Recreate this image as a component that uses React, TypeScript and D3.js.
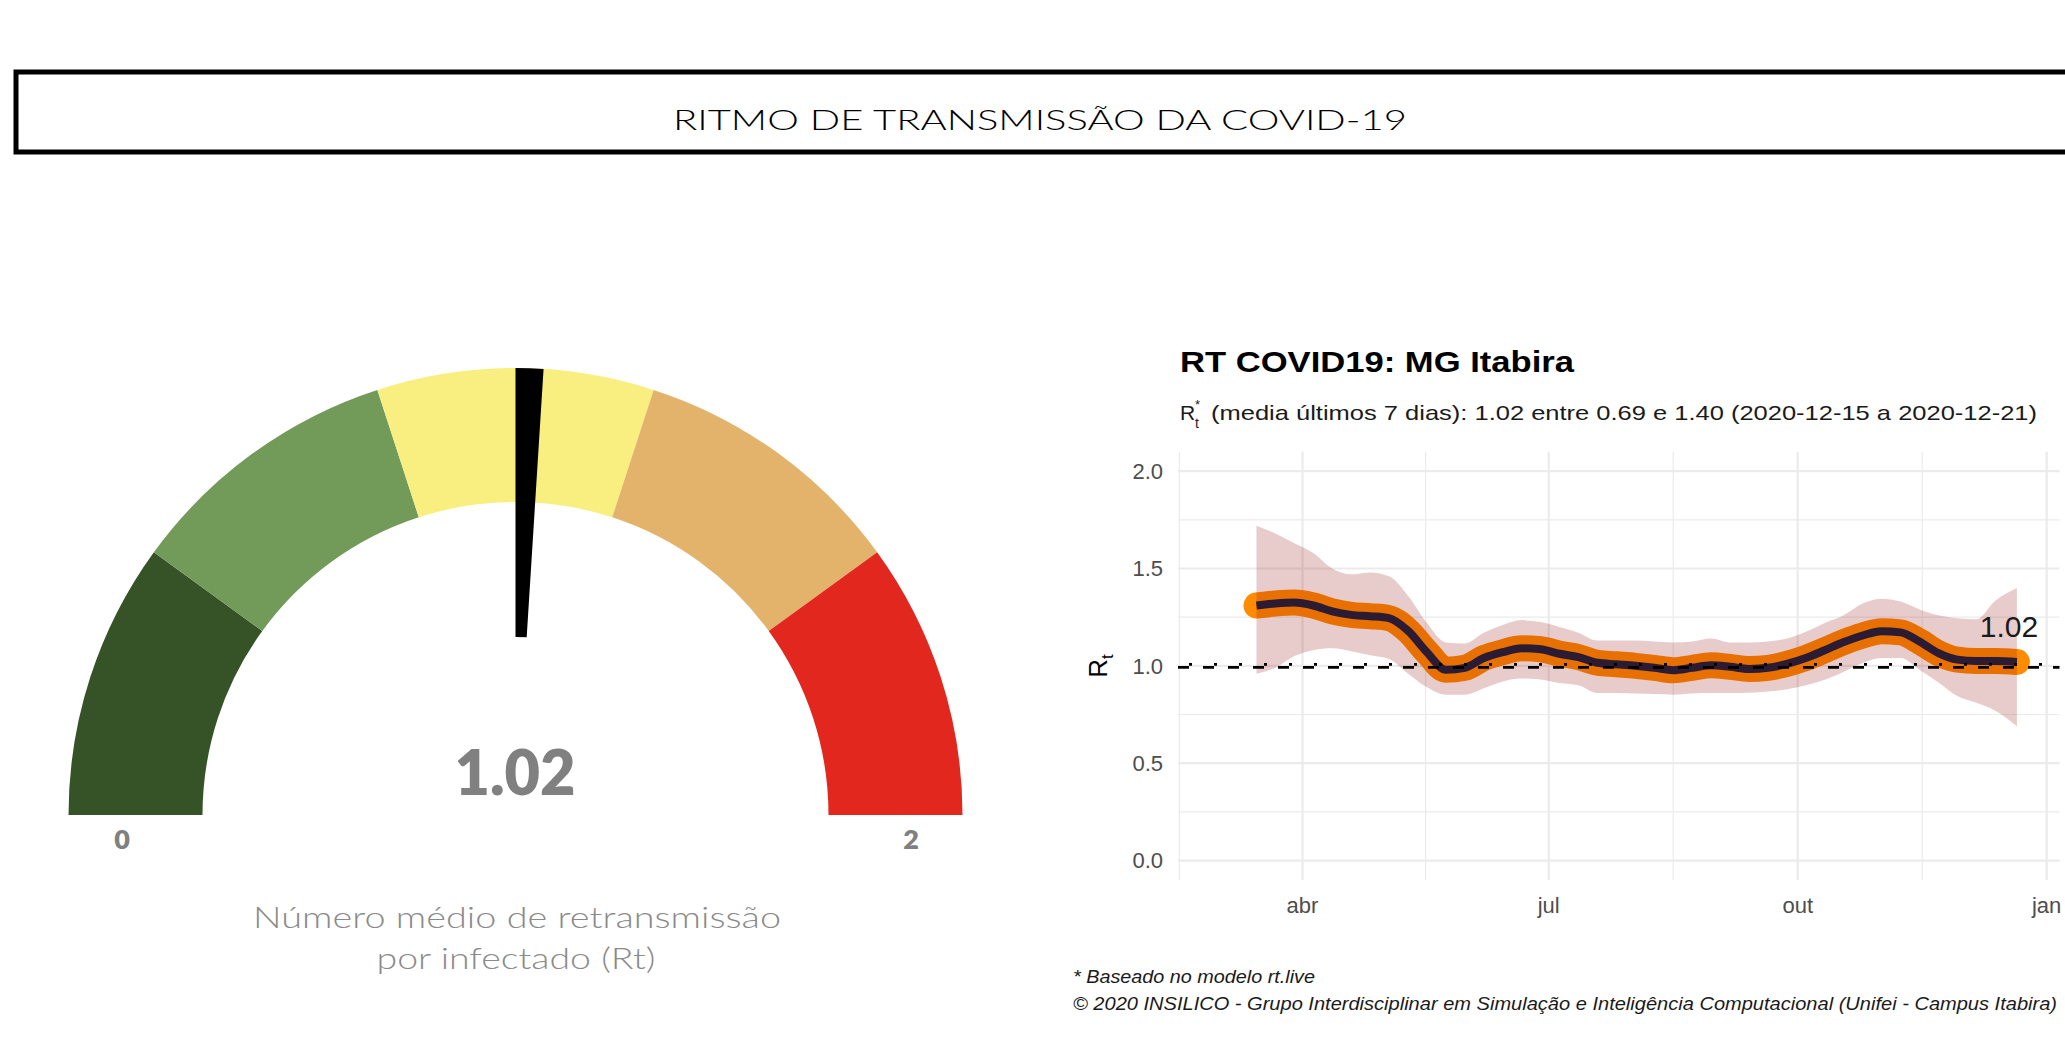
import React, { useEffect } from 'react';
import * as d3 from 'd3';

const W = 2065;
const H = 1038;

// ---------------- Gauge data ----------------
const gaugeBreaks = [0, 0.4, 0.8, 1.2, 1.6, 2.0];
const gaugeColors = ['#355327', '#729a59', '#f8ef80', '#e3b36b', '#e2281e'];
const gaugeValue = 1.02;
const gaugeMinLabel = '0';
const gaugeMaxLabel = '2';
const gaugeCaption = ['Número médio de retransmissão', 'por infectado (Rt)'];
const headerTitle = 'RITMO DE TRANSMISSÃO DA COVID-19';

// ---------------- Rt series ----------------
const rtDates = [
  '2020-03-15', '2020-03-22', '2020-03-29', '2020-04-05', '2020-04-12', '2020-04-19', '2020-04-26',
  '2020-05-03', '2020-05-10', '2020-05-17', '2020-05-24', '2020-05-31', '2020-06-07', '2020-06-14',
  '2020-06-21', '2020-06-28', '2020-07-05', '2020-07-12', '2020-07-19', '2020-07-26', '2020-08-02',
  '2020-08-09', '2020-08-16', '2020-08-23', '2020-08-30', '2020-09-06', '2020-09-13', '2020-09-20',
  '2020-09-27', '2020-10-04', '2020-10-11', '2020-10-18', '2020-10-25', '2020-11-01', '2020-11-08',
  '2020-11-15', '2020-11-22', '2020-11-29', '2020-12-06', '2020-12-13', '2020-12-21',
];
const rtMedian = [
  1.31, 1.32, 1.325, 1.31, 1.28, 1.262, 1.255, 1.245, 1.18, 1.07, 0.98, 0.99, 1.04, 1.07,
  1.09, 1.085, 1.062, 1.045, 1.016, 1.008, 1.0, 0.99, 0.978, 0.99, 1.003, 0.995, 0.984, 0.99,
  1.01, 1.04, 1.08, 1.122, 1.156, 1.178, 1.172, 1.125, 1.065, 1.032, 1.025, 1.025, 1.02,
];
const rtUpper = [
  1.72, 1.68, 1.63, 1.58, 1.5, 1.47, 1.48, 1.46, 1.36, 1.22, 1.12, 1.115, 1.17, 1.21,
  1.235, 1.225, 1.2, 1.17, 1.13, 1.13, 1.13, 1.125, 1.12, 1.125, 1.14, 1.12, 1.12, 1.125,
  1.14, 1.175, 1.22, 1.26, 1.32, 1.345, 1.33, 1.29, 1.26, 1.245, 1.24, 1.335, 1.4,
];
const rtLower = [
  0.96, 0.99, 1.05, 1.08, 1.09, 1.075, 1.055, 1.035, 0.96, 0.89, 0.852, 0.852, 0.885, 0.92,
  0.935, 0.93, 0.912, 0.9, 0.86, 0.86, 0.858, 0.855, 0.852, 0.858, 0.86, 0.86, 0.862, 0.868,
  0.88, 0.9, 0.928, 0.97, 1.015, 1.04, 1.04, 0.98, 0.915, 0.845, 0.81, 0.77, 0.69,
];
const rtLastLabel = '1.02';
const xDomain = ['2020-02-15', '2021-01-05'];
const xMajorBreaks = ['2020-01-01', '2020-04-01', '2020-07-01', '2020-10-01', '2021-01-01'];
const xTickLabels = ['jan', 'abr', 'jul', 'out', 'jan'];
const yBreaks = [0, 0.5, 1.0, 1.5, 2.0];
const yTickLabels = ['0.0', '0.5', '1.0', '1.5', '2.0'];
const yDomain = [-0.1, 2.1];
const refLine = 1.0;
const plotTitle = 'RT COVID19: MG Itabira';
const subtitleRest = '(media últimos 7 dias): 1.02 entre 0.69 e 1.40 (2020-12-15 a 2020-12-21)';
const footnotes = [
  '* Baseado no modelo rt.live',
  '© 2020 INSILICO - Grupo Interdisciplinar em Simulação e Inteligência Computacional (Unifei - Campus Itabira)',
];

const parse = d3.timeParse('%Y-%m-%d');

export default function App() {
  useEffect(() => {
    document.body.style.margin = '0';
    document.body.style.overflow = 'hidden';
  }, []);

  // ---------- gauge ----------
  const gcx = 515.5;
  const gcy = 815;
  const rOuter = 447;
  const rInner = 313;
  const ang = d3.scaleLinear().domain([gaugeBreaks[0], gaugeBreaks[gaugeBreaks.length - 1]]).range([-Math.PI / 2, Math.PI / 2]);
  const arc = d3.arc();
  const segs = gaugeColors.map((c, i) => ({
    c,
    d: arc({ innerRadius: rInner, outerRadius: rOuter, startAngle: ang(gaugeBreaks[i]), endAngle: ang(gaugeBreaks[i + 1]) }) as string,
  }));
  const needle = arc({ innerRadius: 178, outerRadius: rOuter, startAngle: ang(gaugeValue - 0.02), endAngle: ang(gaugeValue + 0.02) }) as string;

  // ---------- Rt plot ----------
  const x = d3.scaleTime().domain(xDomain.map((s) => parse(s) as Date)).range([1178, 2057.5]);
  const y = d3.scaleLinear().domain(yDomain).range([880, 451.7]);
  const panelTop = 451.7;
  const panelBottom = 880;
  const [px0, px1] = x.range();

  const data = rtDates.map((d, i) => ({ date: parse(d) as Date, m: rtMedian[i], hi: rtUpper[i], lo: rtLower[i] }));
  const area = d3.area<any>().x((d) => x(d.date)).y0((d) => y(d.lo)).y1((d) => y(d.hi)).curve(d3.curveMonotoneX);
  const line = d3.line<any>().x((d) => x(d.date)).y((d) => y(d.m)).curve(d3.curveMonotoneX);

  const majorX = xMajorBreaks.map((s) => x(parse(s) as Date));
  const minorX: number[] = [];
  for (let i = 0; i < majorX.length - 1; i++) minorX.push((majorX[i] + majorX[i + 1]) / 2);
  const inX = (v: number) => v >= px0 - 1 && v <= px1 + 1;
  const minorY: number[] = [];
  for (let i = 0; i < yBreaks.length - 1; i++) minorY.push((yBreaks[i] + yBreaks[i + 1]) / 2);

  const last = data[data.length - 1];
  const grid = '#ebebeb';
  const sans = '"Liberation Sans", Arial, sans-serif';
  const gfont = 'Lato, "Open Sans", sans-serif';

  return (
    <svg width={W} height={H} style={{ position: 'absolute', left: 0, top: 0, background: '#fff' }}>
      {/* header */}
      <rect x={16} y={72} width={2200} height={80} fill="none" stroke="#000" strokeWidth={5} />
      <text x={1040} y={130} textAnchor="middle" fontFamily={gfont} fontWeight={300} fontSize={27}
        textLength={734} lengthAdjust="spacingAndGlyphs" fill="#000">{headerTitle}</text>

      {/* gauge */}
      <g transform={`translate(${gcx},${gcy})`}>
        {segs.map((s, i) => <path key={i} d={s.d} fill={s.c} />)}
        <path d={needle} fill="#000" />
      </g>
      <text x={515} y={795} textAnchor="middle" fontFamily={gfont} fontWeight={800} fontSize={63} fill="#808080"
        textLength={121} lengthAdjust="spacingAndGlyphs">
        {gaugeValue.toFixed(2)}
      </text>
      <text x={122} y={849} textAnchor="middle" fontFamily={gfont} fontWeight={800} fontSize={27} fill="#808080">{gaugeMinLabel}</text>
      <text x={911} y={849} textAnchor="middle" fontFamily={gfont} fontWeight={800} fontSize={27} fill="#808080">{gaugeMaxLabel}</text>
      <text x={517} y={928} textAnchor="middle" fontFamily={gfont} fontWeight={300} fontSize={29} fill="#8a8a8a"
        textLength={528} lengthAdjust="spacingAndGlyphs">{gaugeCaption[0]}</text>
      <text x={516} y={969} textAnchor="middle" fontFamily={gfont} fontWeight={300} fontSize={29} fill="#8a8a8a"
        textLength={279} lengthAdjust="spacingAndGlyphs">{gaugeCaption[1]}</text>

      {/* Rt plot: titles */}
      <text x={1180} y={372} fontFamily={sans} fontWeight={700} fontSize={30} fill="#000"
        textLength={394} lengthAdjust="spacingAndGlyphs">{plotTitle}</text>
      <text x={1180} y={420} fontFamily={sans} fontSize={21} fill="#1a1a1a">R</text>
      <text x={1195} y={409} fontFamily={sans} fontSize={13} fill="#1a1a1a">*</text>
      <text x={1195} y={428} fontFamily={sans} fontSize={14} fill="#1a1a1a">t</text>
      <text x={1211} y={420} fontFamily={sans} fontSize={21} fill="#1a1a1a"
        textLength={826} lengthAdjust="spacingAndGlyphs">{subtitleRest}</text>

      {/* grid */}
      {minorY.map((v, i) => (
        <line key={'my' + i} x1={px0} x2={px1 + 2} y1={y(v)} y2={y(v)} stroke={grid} strokeWidth={1.2} />
      ))}
      {minorX.filter(inX).map((v, i) => (
        <line key={'mx' + i} x1={v} x2={v} y1={panelTop} y2={panelBottom} stroke={grid} strokeWidth={1.2} />
      ))}
      {yBreaks.map((v, i) => (
        <line key={'gy' + i} x1={px0} x2={px1 + 2} y1={y(v)} y2={y(v)} stroke={grid} strokeWidth={2.2} />
      ))}
      {majorX.filter(inX).map((v, i) => (
        <line key={'gx' + i} x1={v} x2={v} y1={panelTop} y2={panelBottom} stroke={grid} strokeWidth={2.2} />
      ))}

      {/* series */}
      <path d={line(data) as string} fill="none" stroke="#ff8c00" strokeWidth={26} strokeLinecap="round" strokeLinejoin="round" />
      <path d={area(data) as string} fill="#8b0000" fillOpacity={0.2} />
      <path d={line(data) as string} fill="none" stroke="#2b1b33" strokeWidth={8} strokeLinejoin="round" />

      {/* reference lines */}
      <line x1={px0} x2={px1 + 2} y1={y(refLine) + 1.5} y2={y(refLine) + 1.5} stroke="#000" strokeWidth={2.8} strokeDasharray="11 14" />
      <line x1={px0 + 11} x2={px1 + 2} y1={y(refLine) - 1.5} y2={y(refLine) - 1.5} stroke="#000" strokeWidth={2.8} strokeDasharray="3 22" />

      <text x={x(last.date) - 8} y={637} textAnchor="middle" fontFamily={sans} fontSize={30} fill="#1a1a1a">{rtLastLabel}</text>

      {/* axes labels */}
      {yBreaks.map((v, i) => (
        <text key={'yl' + i} x={1163} y={y(v)} dy="0.36em" textAnchor="end" fontFamily={sans} fontSize={22} fill="#4d4d4d">
          {yTickLabels[i]}
        </text>
      ))}
      {majorX.map((v, i) =>
        inX(v) ? (
          <text key={'xl' + i} x={v} y={913} textAnchor="middle" fontFamily={sans} fontSize={22} fill="#4d4d4d">
            {xTickLabels[i]}
          </text>
        ) : null
      )}
      <text transform={`translate(1106.5,666) rotate(-90)`} textAnchor="middle" fontFamily={sans} fontSize={26} fill="#000">
        R<tspan dy={6} fontSize={17}>t</tspan>
      </text>

      {/* footnotes */}
      <text x={1073} y={983} fontFamily={sans} fontStyle="italic" fontSize={18} fill="#1a1a1a"
        textLength={242} lengthAdjust="spacingAndGlyphs">{footnotes[0]}</text>
      <text x={1073} y={1010} fontFamily={sans} fontStyle="italic" fontSize={18} fill="#1a1a1a"
        textLength={984} lengthAdjust="spacingAndGlyphs">{footnotes[1]}</text>
    </svg>
  );
}
